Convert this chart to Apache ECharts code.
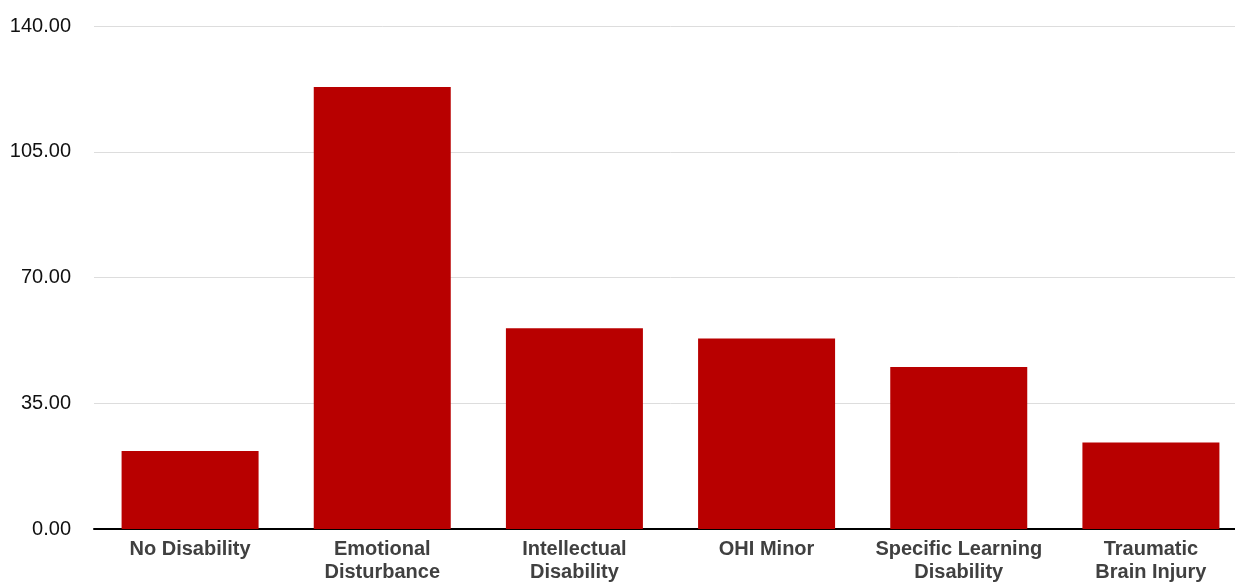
<!DOCTYPE html>
<html><head><meta charset="utf-8">
<script src="https://cdn.jsdelivr.net/npm/echarts@6/dist/echarts.min.js"></script>
<style>html,body{margin:0;padding:0;background:#fff;overflow:hidden;width:1235px;height:584px}#c{width:1247px;height:584px}</style>
</head><body><div id="c"></div>
<script>
const categories = ["No Disability", "Emotional\nDisturbance", "Intellectual\nDisability", "OHI Minor", "Specific Learning\nDisability", "Traumatic\nBrain Injury"];
const values = [21.7, 123.0, 55.9, 53.0, 45.1, 24.1];
const yTicks = [0, 35, 70, 105, 140];

const chart = echarts.init(document.getElementById('c'), null, {renderer: 'canvas'});
chart.setOption({
  animation: false,
  backgroundColor: '#ffffff',
  grid: {left: 94, right: 0, top: 26, bottom: 54, containLabel: false},
  xAxis: {
    type: 'category',
    data: categories,
    axisLine: {show: true, lineStyle: {color: '#000', width: 2}},
    axisTick: {show: false},
    axisLabel: {interval: 0, color: '#404040', fontFamily: 'Liberation Sans, Arial', fontWeight: 'bold', fontSize: 20, lineHeight: 23, margin: 9}
  },
  yAxis: {
    type: 'value',
    min: yTicks[0], max: yTicks[yTicks.length - 1], interval: 35,
    axisLine: {show: false}, axisTick: {show: false},
    splitLine: {lineStyle: {color: '#dddddd', width: 1}},
    axisLabel: {color: '#111', fontFamily: 'Liberation Sans, Arial', fontSize: 20, margin: 23, formatter: v => v.toFixed(2)}
  },
  series: [{
    type: 'bar',
    data: values,
    barWidth: 137,
    itemStyle: {color: '#b80000'}
  }]
});
</script></body></html>
